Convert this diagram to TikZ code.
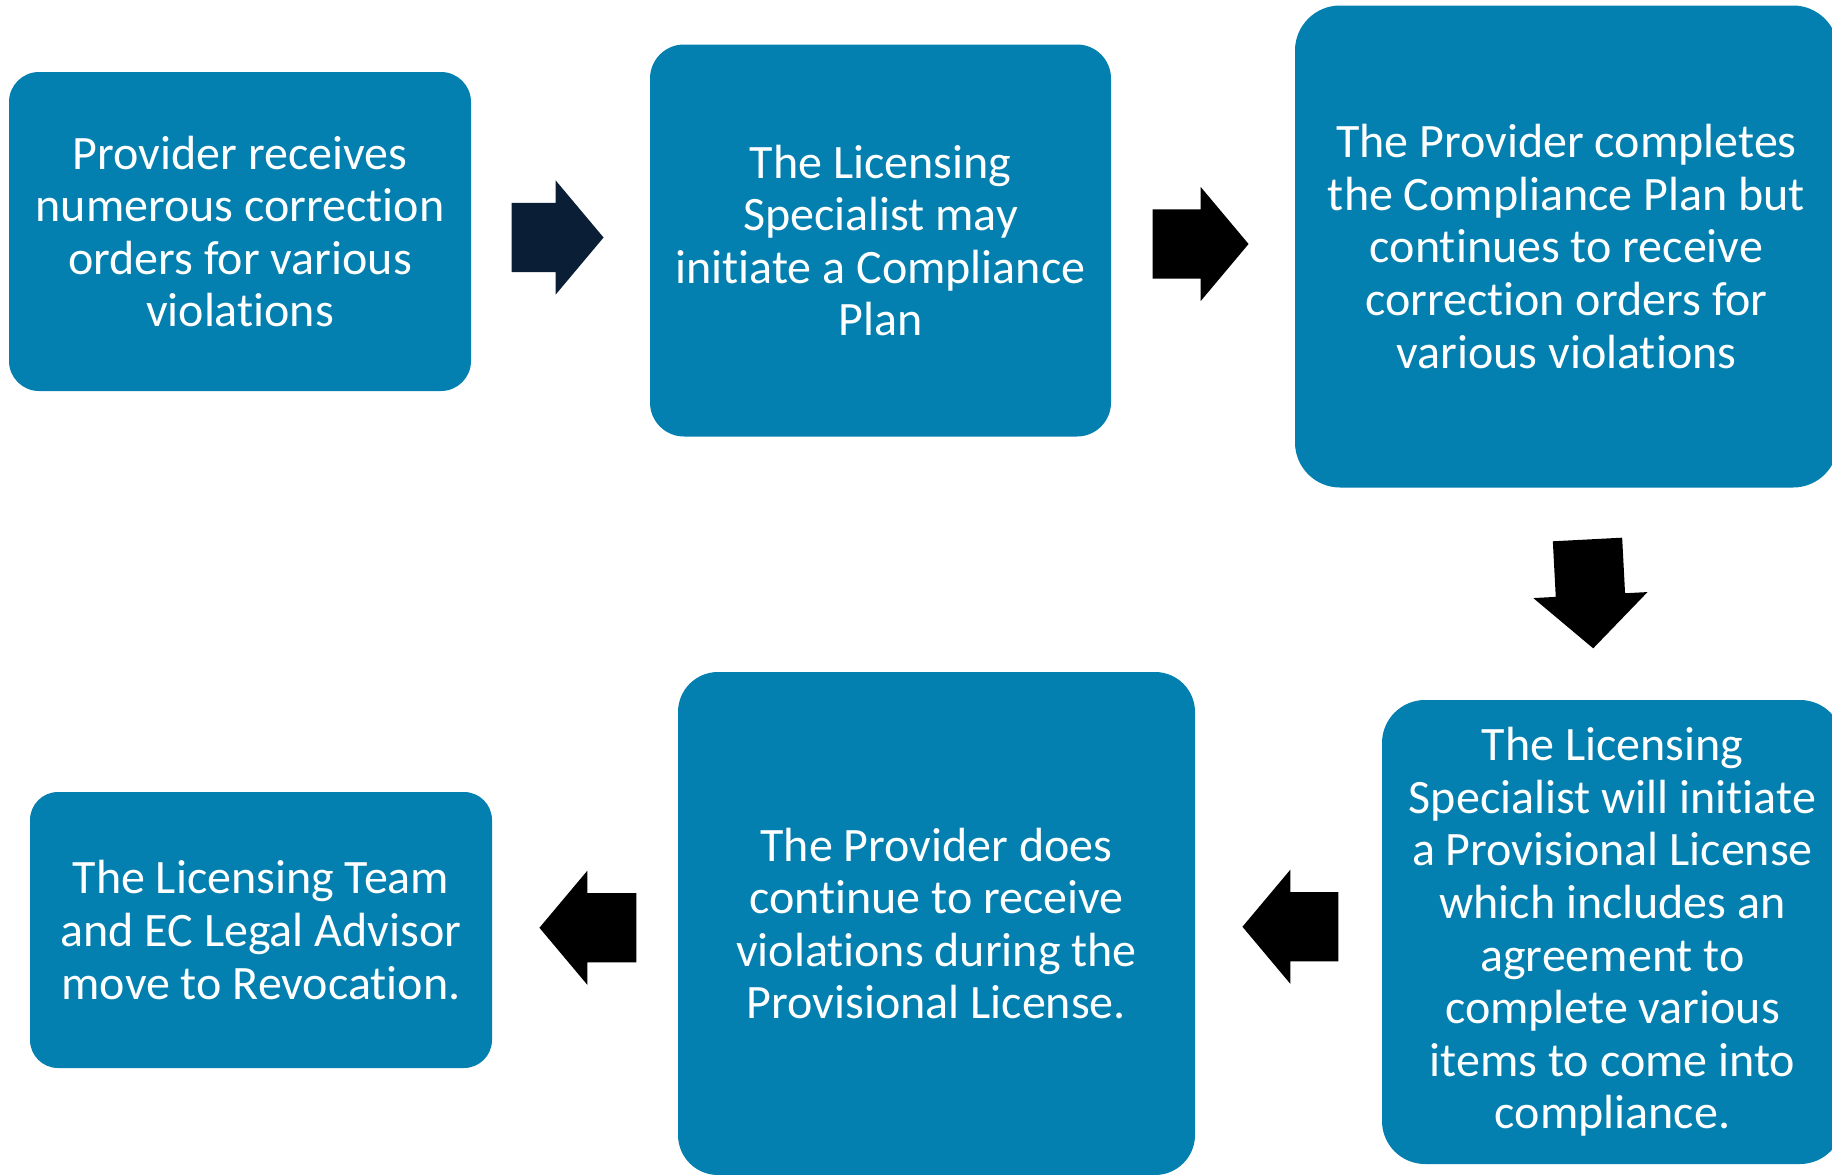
\documentclass[tikz,border=0pt]{standalone}
\usepackage{fontspec}
\setmainfont{Carlito}[Ligatures=NoCommon]
\usetikzlibrary{shapes.arrows,calc}
\definecolor{boxblue}{RGB}{3,128,175}
\definecolor{navy}{RGB}{10,31,54}

\begin{document}
\begin{tikzpicture}[x=1pt, y=-1pt,
	stage/.style={fill=boxblue, text=white, align=center, inner sep=0pt, font=\fontsize{48}{52.6}\selectfont},
	push/.style={single arrow, fill=black, inner xsep=0pt, inner ysep=34.5pt, single arrow head extend=22.5pt, single arrow tip angle=100}]
\useasboundingbox (0,0) rectangle (1832,1175);
% top row
\node[stage, minimum width=462pt, minimum height=319pt, rounded corners=30pt] (s1) at (240,231.5) {Provider receives\\numerous correction\\orders for various\\violations};
\node[stage, minimum width=461pt, minimum height=392pt, rounded corners=34pt] (s2) at (880.5,240.5) {The Licensing\\Specialist may\\initiate a Compliance\\Plan};
\node[stage, minimum width=543pt, minimum height=482pt, rounded corners=45pt] (s3) at (1566.5,246.5) {The Provider completes\\the Compliance Plan but\\continues to receive\\correction orders for\\various violations};
% bottom row
\node[stage, minimum width=461pt, minimum height=464pt, rounded corners=43pt] (s4) at (1612.5,932) {The Licensing\\Specialist will initiate\\a Provisional License\\which includes an\\agreement to\\complete various\\items to come into\\compliance.};
\node[stage, minimum width=517pt, minimum height=503pt, rounded corners=40pt] (s5) at (936.5,923.5) {The Provider does\\continue to receive\\violations during the\\Provisional License.};
\node[stage, minimum width=462pt, minimum height=276pt, rounded corners=28pt] (s6) at (261,930) {The Licensing Team\\and EC Legal Advisor\\move to Revocation.};
% block arrows
\node[push, fill=navy, minimum height=92pt] (p12) at ($(s1.east)!.5!(s2.west)+(-17.5,1.5)$) {};
\node[push, minimum height=96pt] (p23) at ($(s2.east)!.5!(s3.west)+(-17,0.5)$) {};
\node[push, minimum height=109pt, single arrow tip angle=94, rotate=-87] (p34) at ($(s3.south)!.5!(s4.north)+(0,-16)$) {};
\node[push, minimum height=96pt, rotate=180] (p45) at ($(s4.west)!.5!(s5.east)+(16.5,-1)$) {};
\node[push, minimum height=97pt, rotate=180] (p56) at ($(s5.west)!.5!(s6.east)+(17.5,1)$) {};
\end{tikzpicture}
\end{document}
